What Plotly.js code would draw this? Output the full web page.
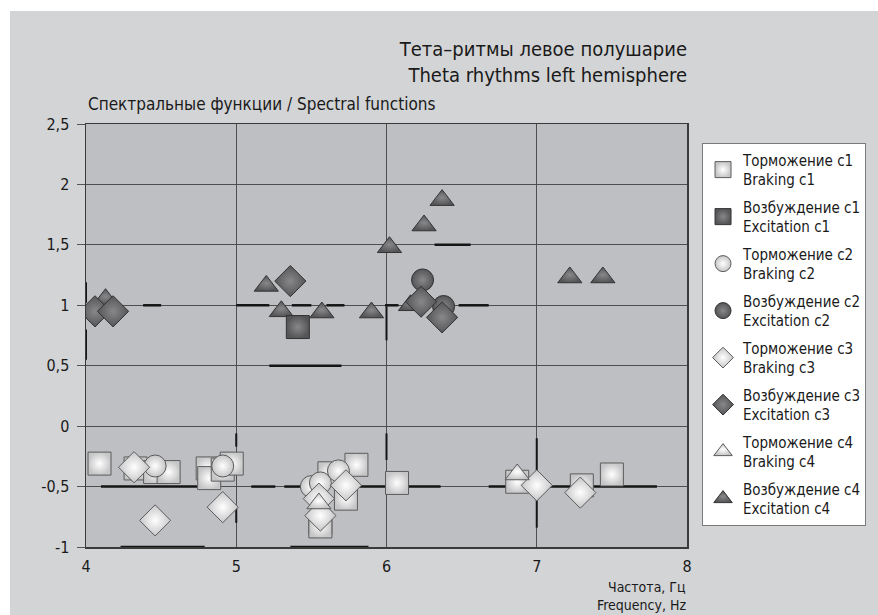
<!DOCTYPE html>
<html><head><meta charset="utf-8">
<script src="https://cdn.plot.ly/plotly-3.0.1.min.js"></script>
<style>
html,body{margin:0;padding:0;background:#ffffff;}
#chart{position:absolute;left:10px;top:11px;width:868px;height:604px;}
</style>
</head><body><div id="chart"></div>
<script>
// ---- data ----
const seriesNames = [
  'Торможение c1<br>Braking c1', 'Возбуждение c1<br>Excitation c1',
  'Торможение c2<br>Braking c2', 'Возбуждение c2<br>Excitation c2',
  'Торможение c3<br>Braking c3', 'Возбуждение c3<br>Excitation c3',
  'Торможение c4<br>Braking c4', 'Возбуждение c4<br>Excitation c4'
];
const brkC1_x = [4.09, 4.33, 4.46, 4.55, 4.81, 4.82, 4.91, 4.97, 5.56, 5.56, 5.62, 5.73, 5.80, 6.07, 6.87, 7.30, 7.50];
const brkC1_y = [-0.31, -0.35, -0.38, -0.38, -0.35, -0.43, -0.36, -0.31, -0.80, -0.83, -0.39, -0.60, -0.32, -0.47, -0.46, -0.49, -0.40];
const excC1_x = [5.41];
const excC1_y = [0.82];
const brkC2_x = [4.46, 4.91, 5.50, 5.56, 5.68];
const brkC2_y = [-0.33, -0.33, -0.50, -0.47, -0.37];
const excC2_x = [6.24, 6.38];
const excC2_y = [1.21, 0.99];
const brkC3_x = [4.32, 4.46, 4.91, 5.55, 5.56, 5.73, 7.00, 7.29];
const brkC3_y = [-0.34, -0.78, -0.67, -0.60, -0.74, -0.49, -0.49, -0.55];
const excC3_x = [4.06, 4.18, 5.36, 6.23, 6.37];
const excC3_y = [0.95, 0.95, 1.20, 1.03, 0.90];
const brkC4_x = [5.55, 6.87];
const brkC4_y = [-0.64, -0.40];
const excC4_x = [4.13, 5.20, 5.30, 5.57, 5.90, 6.02, 6.16, 6.25, 6.37, 7.22, 7.44];
const excC4_y = [1.05, 1.16, 0.95, 0.94, 0.94, 1.48, 1.00, 1.66, 1.87, 1.23, 1.23];

// short black level segments seen on the plot
const hSegY  = [-1, -1, -0.5, -0.5, -0.5, -0.5, -0.5, 0.5, 1, 1, 1, 1, 1, 1, 1.5];
const hSegX0 = [4.23, 5.36, 4.10, 5.10, 5.32, 5.66, 6.68, 5.22, 4.38, 5.00, 5.37, 5.60, 5.99, 6.48, 6.32];
const hSegX1 = [4.79, 5.88, 4.74, 5.26, 5.50, 6.36, 7.80, 5.70, 4.50, 5.22, 5.50, 5.72, 6.08, 6.68, 6.56];
const vSegX  = [4, 4, 5, 5, 6, 6, 7, 7];
const vSegY0 = [1.02, 0.55, -0.06, -0.67, 0.99, -0.06, -0.10, -0.55];
const vSegY1 = [1.19, 0.80, -0.17, -0.80, 0.71, -0.28, -0.39, -0.84];

const xTicks = [4, 5, 6, 7, 8];
const xTickText = ['4', '5', '6', '7', '8'];
const yTicks = [-1, -0.5, 0, 0.5, 1, 1.5, 2, 2.5];
const yTickText = ['-1', '-0,5', '0', '0,5', '1', '1,5', '2', '2,5'];

// ---- build ----
const FONT = 'Liberation Sans Narrow, DejaVu Sans Condensed, Liberation Sans, sans-serif';
const LIGHT = {color: '#c6c6c8', grad: '#ffffff', line: '#5c5c5c'};
const DARK  = {color: '#555558', grad: '#88888b', line: '#333333'};

function mk(name, xs, ys, symbol, size, style, rank) {
  return {
    type: 'scatter', mode: 'markers', name: name, x: xs, y: ys,
    legendrank: rank, legendgroup: 'g' + rank,
    marker: {symbol: symbol, size: size, color: style.color,
      gradient: {type: 'radial', color: style.grad},
      line: {color: style.line, width: 1}},
    hoverinfo: 'x+y'
  };
}

const hx = [], hy = [];
hSegY.forEach((y, i) => { hx.push(hSegX0[i], hSegX1[i], null); hy.push(y, y, null); });
const vx = [], vy = [];
vSegX.forEach((x, i) => { vx.push(x, x, null); vy.push(vSegY0[i], vSegY1[i], null); });

const data = [
  {type: 'scatter', mode: 'lines', x: hx, y: hy, showlegend: false, hoverinfo: 'skip',
   line: {color: '#151515', width: 2.5}},
  {type: 'scatter', mode: 'lines', x: vx, y: vy, showlegend: false, hoverinfo: 'skip',
   line: {color: '#151515', width: 2}},
  mk(seriesNames[7], excC4_x, excC4_y, 'triangle-up', 21, DARK, 8),
  mk(seriesNames[1], excC1_x, excC1_y, 'square', 23, DARK, 2),
  mk(seriesNames[3], excC2_x, excC2_y, 'circle', 22, DARK, 4),
  mk(seriesNames[5], excC3_x, excC3_y, 'diamond', 24, DARK, 6),
  mk(seriesNames[0], brkC1_x, brkC1_y, 'square', 23, LIGHT, 1),
  mk(seriesNames[2], brkC2_x, brkC2_y, 'circle', 22, LIGHT, 3),
  mk(seriesNames[4], brkC3_x, brkC3_y, 'diamond', 24, LIGHT, 5),
  mk(seriesNames[6], brkC4_x, brkC4_y, 'triangle-up', 21, LIGHT, 7)
];

const layout = {
  width: 868, height: 604,
  margin: {l: 76, r: 188, t: 113, b: 68},
  paper_bgcolor: '#d3d4d6', plot_bgcolor: '#bebfc3',
  font: {family: FONT, color: '#1a1a1a', size: 15},
  showlegend: true,
  title: {text: 'Тета–ритмы левое полушарие<br>Theta rhythms left hemisphere',
    x: 1, xref: 'paper', xanchor: 'right', y: 0.925, yref: 'container', yanchor: 'middle',
    font: {family: FONT, size: 20, color: '#1a1a1a'}},
  xaxis: {range: [4, 8], tickvals: xTicks, ticktext: xTickText, showgrid: true,
    gridcolor: '#4e4e4e', gridwidth: 1, zeroline: false, showline: true, mirror: true,
    linecolor: '#3a3a3a', linewidth: 1.5, ticks: '', ticklabelstandoff: 4,
    tickfont: {size: 16, color: '#1a1a1a'}, fixedrange: true},
  yaxis: {range: [-1, 2.5], tickvals: yTicks, ticktext: yTickText, showgrid: true,
    gridcolor: '#4e4e4e', gridwidth: 1, zeroline: false, showline: true, mirror: true,
    linecolor: '#3a3a3a', linewidth: 1.5, ticks: 'outside', ticklen: 8, tickcolor: '#555',
    tickwidth: 1, ticklabelstandoff: 4,
    tickfont: {size: 16, color: '#1a1a1a'}, fixedrange: true},
  legend: {x: 1.025, xanchor: 'left', y: 0.956, yanchor: 'top', bgcolor: '#ffffff',
    bordercolor: '#7a7a7a', borderwidth: 1, tracegroupgap: 5, itemwidth: 30,
    font: {family: FONT, size: 15, color: '#1a1a1a'}},
  annotations: [
    {text: 'Спектральные функции / Spectral functions', xref: 'paper', yref: 'paper',
     x: 0, y: 1.048, xanchor: 'left', yanchor: 'middle', showarrow: false,
     font: {family: FONT, size: 17, color: '#1a1a1a'}},
    {text: 'Частота, Гц', xref: 'paper', yref: 'paper', borderpad: 0,
     x: 1, y: -0.0935, xanchor: 'right', yanchor: 'middle', showarrow: false,
     font: {family: FONT, size: 14, color: '#1a1a1a'}},
    {text: 'Frequency, Hz', xref: 'paper', yref: 'paper', borderpad: 0,
     x: 1, y: -0.1375, xanchor: 'right', yanchor: 'middle', showarrow: false,
     font: {family: FONT, size: 14, color: '#1a1a1a'}}
  ]
};

Plotly.newPlot('chart', data, layout, {displayModeBar: false, staticPlot: true});
</script></body></html>
